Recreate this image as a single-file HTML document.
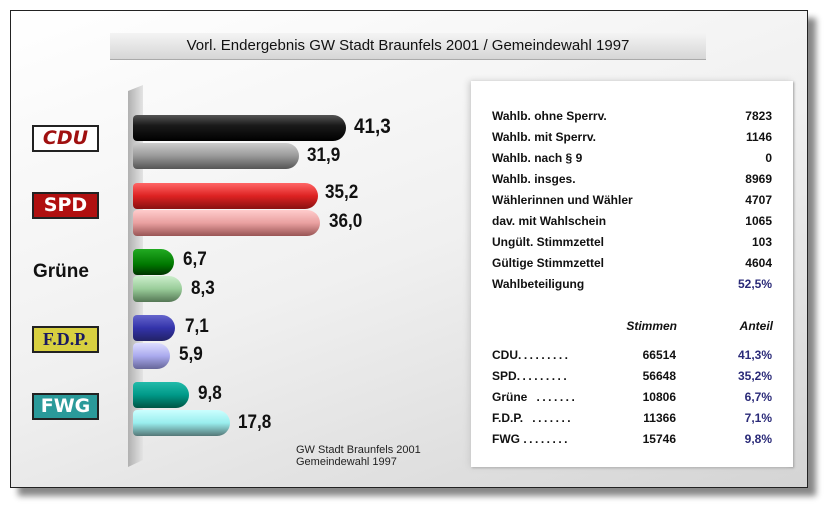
<!DOCTYPE html>
<html><head><meta charset="utf-8"><style>
*{margin:0;padding:0}
body{width:833px;height:512px;background:#fff;position:relative;overflow:hidden;font-family:"Liberation Sans",sans-serif}
.frame{position:absolute;left:10px;top:10px;width:796px;height:476px;border:1px solid #222;background:linear-gradient(160deg,#fff 0%,#f0f0f0 50%,#d4d4d4 100%);box-shadow:8px 8px 6px #888}
.title{position:absolute;left:110px;top:33px;width:596px;height:26px;background:linear-gradient(#f4f4f4,#d6d6d6);border-bottom:1px solid #aaa;font-size:15px;line-height:26px;text-align:center;color:#111}
.panel{position:absolute;left:471px;top:81px;width:322px;height:386px;background:#fff;box-shadow:-2px 0 6px #ccc,1px 1px 2px #999}
.wall{position:absolute;left:128px;top:85px;width:15px;height:382px;background:linear-gradient(90deg,#b0b0b0,#e4e4e4);clip-path:polygon(0 6px,100% 0,100% 375px,0 382px)}
.bar{position:absolute;left:133px;height:26px;border-radius:4px 13px 13px 4px}
.v{position:absolute;font-weight:bold;font-size:19px;color:#111;transform:scaleX(0.9);transform-origin:left}
.lab{position:absolute;left:32px;width:63px;height:23px;border:2px solid #222;font-weight:bold;text-align:center;line-height:23px;font-size:18px}
.t{position:absolute;font-size:12px;font-weight:bold;color:#111}
.r{text-align:right}
.b{color:#2a2a78}
.d{letter-spacing:2.5px}
</style></head><body>
<div class="frame"></div>
<div class="title">Vorl. Endergebnis GW Stadt Braunfels 2001 / Gemeindewahl 1997</div>
<div class="panel"></div>
<div class="wall"></div>

<div class="bar" style="top:115px;width:213px;background:linear-gradient(#555,#1a1a1a 40%,#000)"></div>
<div class="v" style="left:354px;top:115px;font-size:21px">41,3</div>
<div class="bar" style="top:143px;width:166px;background:linear-gradient(#ccc,#999 50%,#555)"></div>
<div class="v" style="left:307px;top:145px">31,9</div>
<div class="bar" style="top:183px;width:185px;background:linear-gradient(#f66,#d22 50%,#811)"></div>
<div class="v" style="left:325px;top:182px">35,2</div>
<div class="bar" style="top:210px;width:187px;background:linear-gradient(#fcc,#e9a0a0 50%,#955)"></div>
<div class="v" style="left:329px;top:211px">36,0</div>
<div class="bar" style="top:249px;width:41px;background:linear-gradient(#2a2,#070 60%,#030)"></div>
<div class="v" style="left:183px;top:249px">6,7</div>
<div class="bar" style="top:276px;width:49px;background:linear-gradient(#cec,#9c9 50%,#575)"></div>
<div class="v" style="left:191px;top:278px">8,3</div>
<div class="bar" style="top:315px;width:42px;background:linear-gradient(#66c,#33a 50%,#226)"></div>
<div class="v" style="left:185px;top:316px">7,1</div>
<div class="bar" style="top:343px;width:37px;background:linear-gradient(#ddf,#aae 50%,#669)"></div>
<div class="v" style="left:179px;top:344px">5,9</div>
<div class="bar" style="top:382px;width:56px;background:linear-gradient(#2ba,#098 50%,#054)"></div>
<div class="v" style="left:198px;top:383px">9,8</div>
<div class="bar" style="top:410px;width:97px;background:linear-gradient(#cff,#9ee 50%,#577)"></div>
<div class="v" style="left:238px;top:412px">17,8</div>
<div style="position:absolute;left:296px;top:444px;font-size:11px;line-height:12px;color:#222">GW Stadt Braunfels 2001<br>Gemeindewahl 1997</div>

<div class="lab" style="top:125px;background:#fff;color:#a01010;font-style:italic;font-family:'DejaVu Sans',sans-serif;font-size:19px">CDU</div>
<div class="lab" style="top:192px;background:#b01010;color:#fff;font-family:'DejaVu Sans',sans-serif;font-size:19px">SPD</div>
<div style="position:absolute;left:33px;top:261px;font-size:19px;font-weight:bold;color:#111">Grüne</div>
<div class="lab" style="top:326px;background:#d8d040;color:#1a1a60;font-family:'Liberation Serif',serif;font-size:18px">F.D.P.</div>
<div class="lab" style="top:393px;background:#2a9a9a;color:#fff;font-family:'DejaVu Sans',sans-serif;font-size:19px">FWG</div>

<div class="t" style="left:492px;top:109px">Wahlb. ohne Sperrv.</div><div class="t r" style="left:700px;width:72px;top:109px">7823</div>
<div class="t" style="left:492px;top:130px">Wahlb. mit Sperrv.</div><div class="t r" style="left:700px;width:72px;top:130px">1146</div>
<div class="t" style="left:492px;top:151px">Wahlb. nach § 9</div><div class="t r" style="left:700px;width:72px;top:151px">0</div>
<div class="t" style="left:492px;top:172px">Wahlb. insges.</div><div class="t r" style="left:700px;width:72px;top:172px">8969</div>
<div class="t" style="left:492px;top:193px">Wählerinnen und Wähler</div><div class="t r" style="left:700px;width:72px;top:193px">4707</div>
<div class="t" style="left:492px;top:214px">dav. mit Wahlschein</div><div class="t r" style="left:700px;width:72px;top:214px">1065</div>
<div class="t" style="left:492px;top:235px">Ungült. Stimmzettel</div><div class="t r" style="left:700px;width:72px;top:235px">103</div>
<div class="t" style="left:492px;top:256px">Gültige Stimmzettel</div><div class="t r" style="left:700px;width:72px;top:256px">4604</div>
<div class="t" style="left:492px;top:277px">Wahlbeteiligung</div><div class="t r b" style="left:700px;width:72px;top:277px">52,5%</div>

<div class="t r" style="left:600px;width:77px;top:319px;font-style:italic">Stimmen</div>
<div class="t r" style="left:700px;width:73px;top:319px;font-style:italic">Anteil</div>

<div class="t" style="left:492px;top:348px">CDU<span class="d">.........</span></div><div class="t r" style="left:600px;width:76px;top:348px">66514</div><div class="t r b" style="left:700px;width:72px;top:348px">41,3%</div>
<div class="t" style="left:492px;top:369px">SPD<span class="d">.........</span></div><div class="t r" style="left:600px;width:76px;top:369px">56648</div><div class="t r b" style="left:700px;width:72px;top:369px">35,2%</div>
<div class="t" style="left:492px;top:390px">Grüne <span class="d">&nbsp;.......</span></div><div class="t r" style="left:600px;width:76px;top:390px">10806</div><div class="t r b" style="left:700px;width:72px;top:390px">6,7%</div>
<div class="t" style="left:492px;top:411px">F.D.P. <span class="d">&nbsp;.......</span></div><div class="t r" style="left:600px;width:76px;top:411px">11366</div><div class="t r b" style="left:700px;width:72px;top:411px">7,1%</div>
<div class="t" style="left:492px;top:432px">FWG <span class="d">........</span></div><div class="t r" style="left:600px;width:76px;top:432px">15746</div><div class="t r b" style="left:700px;width:72px;top:432px">9,8%</div>
</body></html>
